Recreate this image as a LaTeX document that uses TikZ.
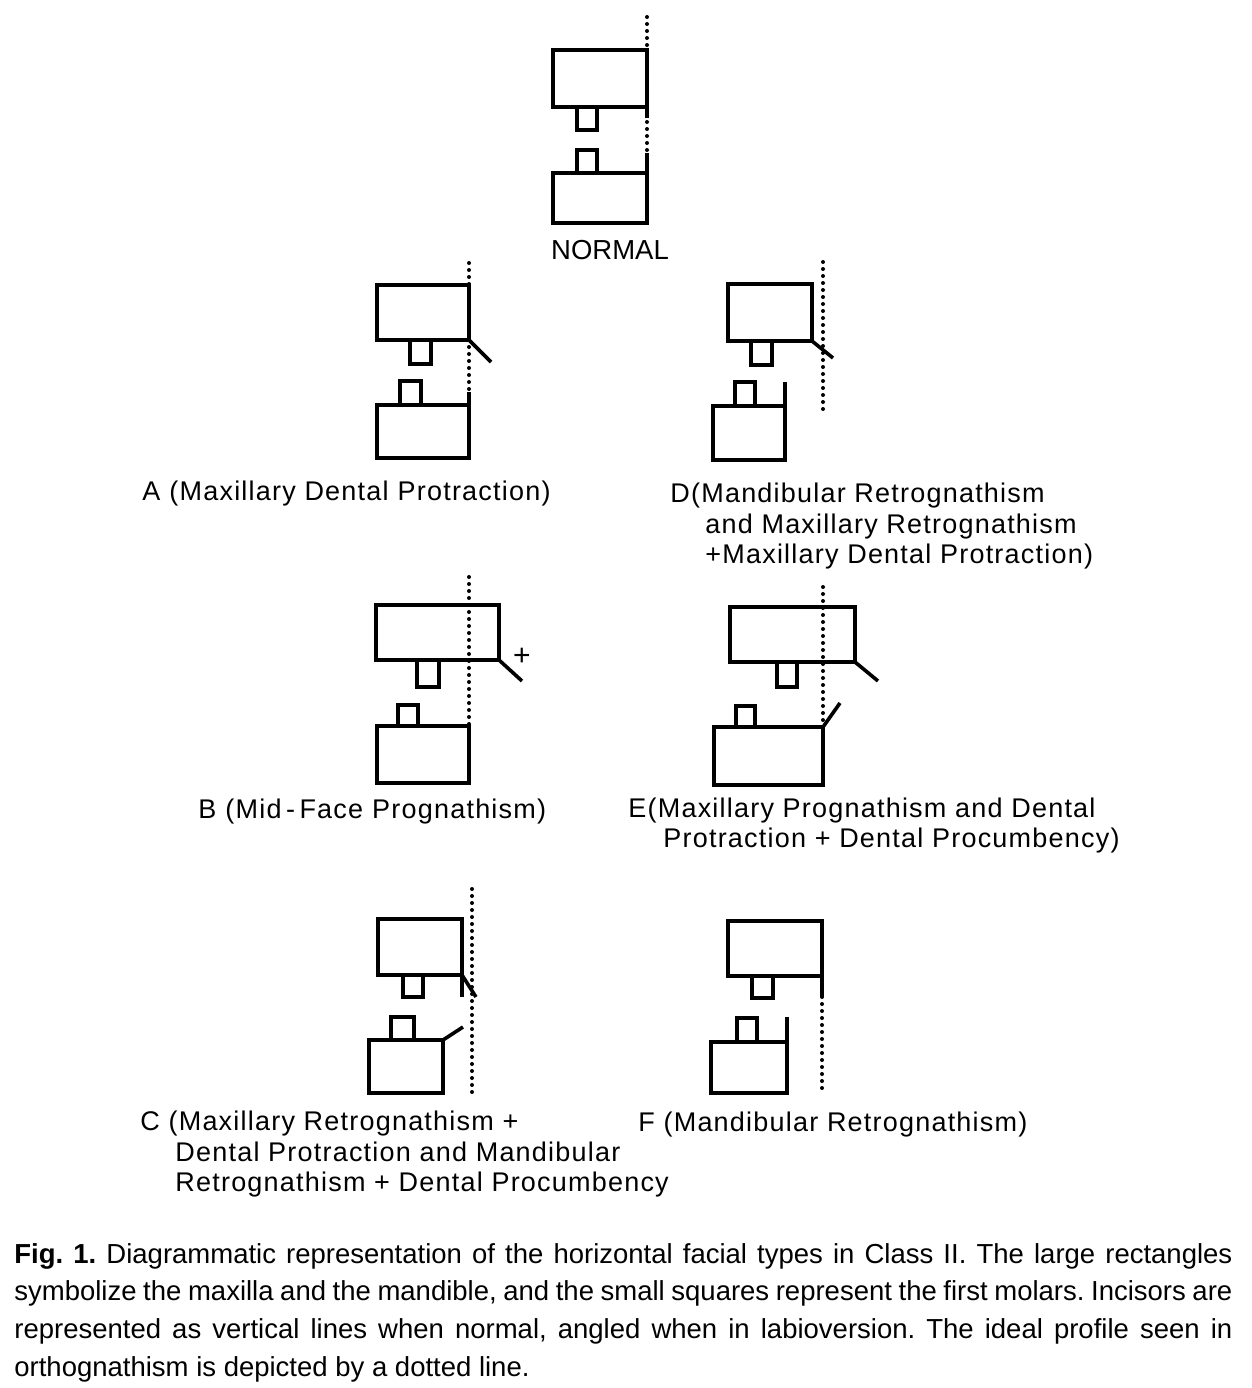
\documentclass[tikz,border=0pt]{standalone}
\usepackage{fontspec}
\setmainfont{Liberation Sans}
\newfontfamily\labfont{Liberation Sans}[LetterSpace=4.5]
\frenchspacing
\begin{document}
\begin{tikzpicture}[x=0.5pt,y=-0.5pt,
  bone/.style={line width=1.8pt, line join=miter},
  dots/.style={line width=2pt, line cap=round, dash pattern=on 0pt off 3.5pt},
  lab/.style={anchor=base west, inner sep=0pt, font=\labfont\fontsize{13.5pt}{15pt}\selectfont},
  captext/.style={anchor=base west, inner sep=0pt, text width=609pt, align=justify,
    font=\fontsize{13.75pt}{18.85pt}\selectfont\frenchspacing}]
\useasboundingbox[fill=white] (0,0) rectangle (1252,1388);

% ---------- NORMAL ----------
\draw[dots] (647,17) -- (647,223);
\draw[bone] (553,50) rectangle (647,107);
\draw[bone] (577,107) -- (577,130) -- (597,130) -- (597,107);
\draw[bone] (647,107) -- (647,118);
\draw[bone] (553,173) rectangle (647,223);
\draw[bone] (577,173) -- (577,150) -- (597,150) -- (597,173);
\draw[bone] (647,173) -- (647,153);
\node[anchor=base, inner sep=0pt, font=\fontsize{13.75pt}{15pt}\selectfont] (normal) at (610,259) {NORMAL};

% ---------- A ----------
\draw[dots] (469,263) -- (469,405);
\draw[bone] (377,285) rectangle (469,340);
\draw[bone] (410,340) -- (410,364) -- (431,364) -- (431,340);
\draw[bone] (469,340) -- (491,362);
\draw[bone] (377,405) rectangle (469,458);
\draw[bone] (400,405) -- (400,381) -- (421,381) -- (421,405);
\draw[bone] (469,405) -- (469,392);
\node[lab] (labA) at (142,500) {A\,\,(Maxillary Dental\,\,Protraction)};

% ---------- D ----------
\draw[dots] (823,262) -- (823,412);
\draw[bone] (728,284) rectangle (812,341);
\draw[bone] (751,341) -- (751,365) -- (772,365) -- (772,341);
\draw[bone] (812,341) -- (833,358);
\draw[bone] (713,406) rectangle (785,460);
\draw[bone] (735,406) -- (735,382) -- (755,382) -- (755,406);
\draw[bone] (785,406) -- (785,382);
\node[lab] (labD1) at (670,502) {D(Mandibular Retrognathism};
\node[lab] (labD2) at (705,533) {and Maxillary Retrognathism};
\node[lab] (labD3) at (705,563) {+Maxillary Dental Protraction)};

% ---------- B ----------
\draw[dots] (469,577) -- (469,726);
\draw[bone] (376,605) rectangle (499,660);
\draw[bone] (417,660) -- (417,687) -- (439,687) -- (439,660);
\draw[bone] (499,660) -- (522,681);
\node[inner sep=0pt, font=\fontsize{15pt}{15pt}\selectfont] (plusB) at (522,657) {+};
\draw[bone] (377,726) rectangle (469,783);
\draw[bone] (398,726) -- (398,705) -- (418,705) -- (418,726);
\node[lab] (labB) at (198,818) {B\,\,(Mid\,-\,Face\,\,Prognathism)};

% ---------- E ----------
\draw[dots] (823,587) -- (823,727);
\draw[bone] (730,607) rectangle (855,662);
\draw[bone] (777,662) -- (777,687) -- (797,687) -- (797,662);
\draw[bone] (855,662) -- (878,681);
\draw[bone] (714,727) rectangle (823,785);
\draw[bone] (736,727) -- (736,706) -- (755,706) -- (755,727);
\draw[bone] (823,727) -- (840,703);
\node[lab] (labE1) at (628,817) {E(Maxillary Prognathism and Dental};
\node[lab] (labE2) at (663,847) {Protraction + Dental Procumbency)};

% ---------- C ----------
\draw[dots] (472,889) -- (472,1093);
\draw[bone] (378,919) rectangle (462,975);
\draw[bone] (403,975) -- (403,997) -- (423,997) -- (423,975);
\draw[bone] (462,975) -- (462,997);
\draw[bone] (462,975) -- (476,997);
\draw[bone] (369,1040) rectangle (443,1093);
\draw[bone] (391,1040) -- (391,1017) -- (414,1017) -- (414,1040);
\draw[bone] (443,1040) -- (463,1027);
\node[lab] (labC1) at (140,1130) {C (Maxillary Retrognathism +};
\node[lab] (labC2) at (175,1161) {Dental Protraction and Mandibular};
\node[lab] (labC3) at (175,1191) {Retrognathism + Dental Procumbency};

% ---------- F ----------
\draw[dots] (822,997) -- (822,1095);
\draw[bone] (728,921) rectangle (822,976);
\draw[bone] (752,976) -- (752,998) -- (773,998) -- (773,976);
\draw[bone] (822,976) -- (822,997);
\draw[bone] (711,1042) rectangle (787,1093);
\draw[bone] (737,1042) -- (737,1018) -- (757,1018) -- (757,1042);
\draw[bone] (787,1042) -- (787,1017);
\node[lab] (labF) at (638,1131) {F (Mandibular Retrognathism)};

% ---------- caption ----------
\node[captext] (caption) at (14,1263) {\textbf{Fig. 1.} Diagrammatic representation of the horizontal facial types in Class II. The large rectangles\linebreak symbolize the maxilla and the mandible, and the small squares represent the first molars. Incisors are\linebreak represented as vertical lines when normal, angled when in labioversion. The ideal profile seen in\linebreak orthognathism is depicted by a dotted line.};
\end{tikzpicture}
\end{document}
